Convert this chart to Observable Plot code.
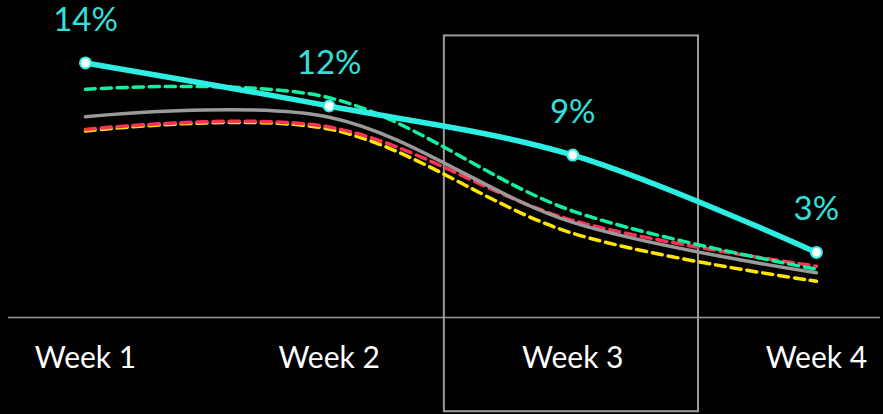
<!DOCTYPE html>
<html>
<head>
<meta charset="utf-8">
<script src="https://cdn.jsdelivr.net/npm/d3@7"></script>
<script src="https://cdn.jsdelivr.net/npm/@observablehq/plot@0.6"></script>
<style>
  html, body { margin: 0; padding: 0; background: #000; }
  #chart svg { display: block; }
</style>
</head>
<body>
<div id="chart"></div>
<script>
// ---- Data ----
const weeks = ["Week 1", "Week 2", "Week 3", "Week 4"];
const cyanValues   = [14, 11.5, 8.65, 3];
const cyanLabels   = ["14%", "12%", "9%", "3%"];
const greenValues  = [12.47, 11.98, 5.40, 2.02];
const grayValues   = [10.87, 10.85, 4.74, 1.82];
const redValues    = [10.14, 10.28, 4.86, 2.20];
const yellowValues = [10.05, 10.16, 4.11, 1.33];
const highlightWeek = 2; // Week 3

// ---- Build tables ----
const toRows = (vals) => vals.map((v, i) => ({i, v}));
const cyanRows = cyanValues.map((v, i) => ({i, v, label: cyanLabels[i]}));
const weekRows = weeks.map((w, i) => ({i, w}));

const W = 883, H = 414;
const yMin = -0.78, yMax = 16;

const chart = Plot.plot({
  width: W,
  height: H,
  marginLeft: 8,
  marginRight: 3,
  marginTop: 28,
  marginBottom: 97,
  style: {background: "#000", overflow: "visible"},
  x: {type: "linear", domain: [-0.316, 3.263], axis: null},
  y: {type: "linear", domain: [yMin, yMax], axis: null},
  marks: [
    // highlight box around Week 3
    Plot.rect([highlightWeek], {
      x1: d => d - 0.527, x2: d => d + 0.516,
      y1: -6.25, y2: 15.57,
      fill: "none", stroke: "#9a9a9a", strokeWidth: 2, clip: false
    }),
    // baseline
    Plot.ruleY([yMin], {stroke: "#9a9a9a", strokeWidth: 1.5}),
    // series
    Plot.line(toRows(yellowValues), {x: "i", y: "v", curve: "catmull-rom", stroke: "#ffe600", strokeWidth: 3.5, strokeDasharray: "10,6"}),
    Plot.line(toRows(redValues), {x: "i", y: "v", curve: "catmull-rom", stroke: "#ff3355", strokeWidth: 3.5, strokeDasharray: "10,6"}),
    Plot.line(toRows(grayValues), {x: "i", y: "v", curve: "catmull-rom", stroke: "#9a9a9a", strokeWidth: 3.5}),
    Plot.line(toRows(greenValues), {x: "i", y: "v", curve: "catmull-rom", stroke: "#14f0a0", strokeWidth: 3.5, strokeDasharray: "10,6"}),
    Plot.line(cyanRows, {x: "i", y: "v", curve: "catmull-rom", stroke: "#2deee2", strokeWidth: 5.5}),
    Plot.dot(cyanRows, {x: "i", y: "v", r: 5.5, fill: "#fff", stroke: "#2deee2", strokeWidth: 2}),
    Plot.text(cyanRows, {x: "i", y: "v", text: "label", dy: -43, fill: "#33e0dc",
      fontSize: 33, fontFamily: "Lato", fontWeight: 400, lineAnchor: "middle"}),
    // week labels
    Plot.text(weekRows, {x: "i", y: () => yMin, text: "w", dy: 41, fill: "#fff",
      fontSize: 30, fontFamily: "Lato", lineAnchor: "middle"})
  ]
});
document.getElementById("chart").append(chart);
</script>
</body>
</html>
